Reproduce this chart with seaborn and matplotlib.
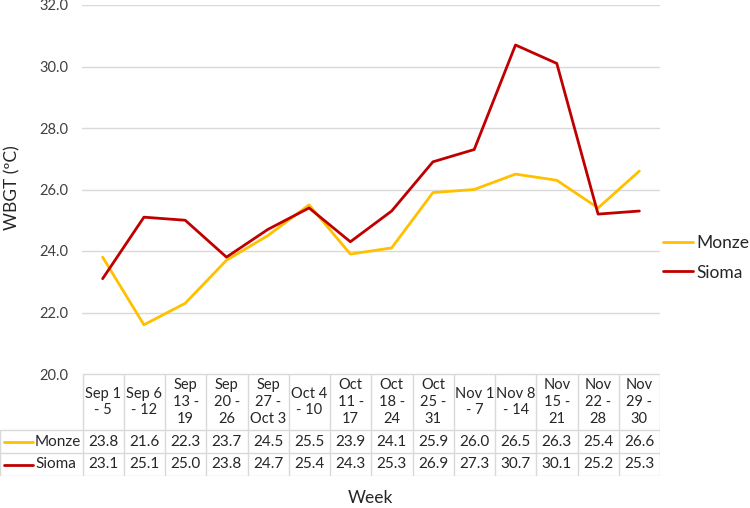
import numpy as np
import pandas as pd
import seaborn as sns
import matplotlib.pyplot as plt
from matplotlib.lines import Line2D

# Data
weeks = ["Sep 1\n- 5", "Sep 6\n- 12", "Sep\n13 -\n19", "Sep\n20 -\n26", "Sep\n27 -\nOct 3",
         "Oct 4\n- 10", "Oct\n11 -\n17", "Oct\n18 -\n24", "Oct\n25 -\n31", "Nov 1\n- 7",
         "Nov 8\n- 14", "Nov\n15 -\n21", "Nov\n22 -\n28", "Nov\n29 -\n30"]
monze = [23.8, 21.6, 22.3, 23.7, 24.5, 25.5, 23.9, 24.1, 25.9, 26.0, 26.5, 26.3, 25.4, 26.6]
sioma = [23.1, 25.1, 25.0, 23.8, 24.7, 25.4, 24.3, 25.3, 26.9, 27.3, 30.7, 30.1, 25.2, 25.3]
series = ["Monze", "Sioma"]
colors = {"Monze": "#FFC000", "Sioma": "#C00000"}

df = pd.DataFrame({"idx": list(range(len(weeks))) * 2,
                   "WBGT": monze + sioma,
                   "Site": ["Monze"] * len(weeks) + ["Sioma"] * len(weeks)})

sns.set_style("white")
plt.rcParams['font.family'] = ['Lato', 'DejaVu Sans']

W, H = 750, 508
fig = plt.figure(figsize=(7.5, 5.08), dpi=100)

def px_axes(x0, y0, x1, y1):
    return fig.add_axes([x0 / W, 1 - y1 / H, (x1 - x0) / W, (y1 - y0) / H])

# Main chart
ax = px_axes(82, 5, 660, 374)
sns.lineplot(data=df, x="idx", y="WBGT", hue="Site", palette=colors, linewidth=2,
             ax=ax, legend=False)
ax.set_xlim(-0.5, len(weeks) - 0.5)
ax.set_ylim(20, 32)
ax.set_yticks(np.arange(20, 33, 2))
ax.set_yticklabels([f"{v:.1f}" for v in np.arange(20, 33, 2)], fontsize=10.5, color="#404040")
ax.set_xticks([])
ax.set_xlabel("")
ax.set_ylabel("")
ax.grid(axis="y", color="#d9d9d9", linewidth=1)
for s in ax.spines.values():
    s.set_visible(False)
ax.tick_params(axis="y", length=0, pad=10)

fig.text(12 / W, 1 - 188 / H, "WBGT (ºC)", rotation=90, ha="center", va="center",
         fontsize=12.5, color="#262626")

# Legend on the right
handles = [Line2D([], [], color=colors[s], linewidth=2) for s in series]
fig.legend(handles, series, loc="center left", bbox_to_anchor=(663 / W, 1 - 258 / H),
           frameon=False, fontsize=12.5, handlelength=1.75, handletextpad=0.2,
           labelspacing=0.75, borderaxespad=0, borderpad=0)

# Data table
tab = px_axes(0, 374, 660, 476)
tab.set_xlim(-2.5, len(weeks) - 0.5)
tab.set_ylim(102, 0)
tab.axis("off")
gc = "#d9d9d9"
rows_y = [0, 56, 79, 102]
# horizontal lines
tab.plot([-0.5, len(weeks) - 0.5], [0, 0], color=gc, lw=1)
for yy in rows_y[1:]:
    tab.plot([-2.5, len(weeks) - 0.5], [yy, yy], color=gc, lw=1)
# vertical lines
for i in range(len(weeks) + 1):
    tab.plot([i - 0.5, i - 0.5], [0, 102], color=gc, lw=1)
tab.plot([-2.49, -2.49], [56, 102], color=gc, lw=1)
for i, w in enumerate(weeks):
    tab.text(i, 28, w, ha="center", va="center", fontsize=10.5, color="#262626",
             linespacing=1.25)
for r, (name, vals) in enumerate(zip(series, [monze, sioma])):
    yc = (rows_y[r + 1] + rows_y[r + 2]) / 2
    tab.plot([-2.4, -1.7], [yc, yc], color=colors[name], lw=2)
    tab.text(-1.65, yc, name, ha="left", va="center", fontsize=11, color="#262626")
    for i, v in enumerate(vals):
        tab.text(i, yc, f"{v:.1f}", ha="center", va="center", fontsize=11, color="#262626")

fig.text(370 / W, 1 - 498 / H, "Week", ha="center", va="center", fontsize=12.5, color="#262626")

fig.savefig("out.png", dpi=100)
